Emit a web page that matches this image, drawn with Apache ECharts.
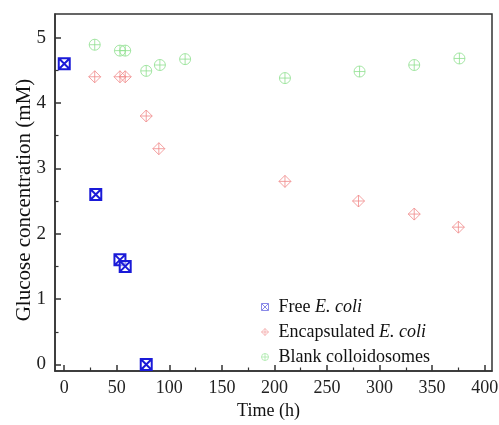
<!DOCTYPE html>
<html><head><meta charset="utf-8">
<script src="https://cdn.jsdelivr.net/npm/echarts@6/dist/echarts.min.js"></script>
<style>html,body{margin:0;padding:0;background:#fff}#c{width:499px;height:425px}</style>
</head><body><div id="c"></div>
<script>
const freeTime = [0, 30, 53, 58, 78];
const freeGlucose = [4.6, 2.6, 1.6, 1.5, 0];
const encTime = [29, 53, 58, 78, 90, 210, 280, 333, 375];
const encGlucose = [4.4, 4.4, 4.4, 3.8, 3.3, 2.8, 2.5, 2.3, 2.1];
const blankTime = [29, 53, 58, 78, 91, 115, 210, 281, 333, 376];
const blankGlucose = [4.89, 4.8, 4.8, 4.49, 4.58, 4.67, 4.38, 4.48, 4.58, 4.68];
const xTicks = [0, 50, 100, 150, 200, 250, 300, 350, 400];
const xMinor = [25, 75, 125, 175, 225, 275, 325, 375];
const yTicks = [0, 1, 2, 3, 4, 5];
const yMinor = [0.5, 1.5, 2.5, 3.5, 4.5];
const names = ['Free E. coli', 'Encapsulated E. coli', 'Blank colloidosomes'];

const F = '"Liberation Serif", "Times New Roman", serif';
const zip = (a, b) => a.map((v, i) => [v, b[i]]);
const XMIN = -8.8, XMAX = 407, YMIN = -0.1, YMAX = 5.36;
const symFree = 'path://M0,0L12,0L12,12L0,12Z M0,0L12,12 M12,0L0,12';
const symEnc = 'path://M6,0L12,6L6,12L0,6Z M6,0L6,12 M0,6L12,6';
const symBlank = 'path://M0,6A6,6 0 1,1 12,6A6,6 0 1,1 0,6Z M6,0L6,12 M0,6L12,6';

const chart = echarts.init(document.getElementById('c'));
const axisLine = {show: true, onZero: false, lineStyle: {color: '#333', width: 1.5}};
chart.setOption({
  animation: false,
  textStyle: {fontFamily: F},
  grid: {left: 55, top: 14, right: 7, bottom: 54, show: true, borderColor: '#333', borderWidth: 1.5,
         outerBoundsMode: 'none', containLabel: false},
  xAxis: [{
    type: 'value', min: XMIN, max: XMAX,
    name: 'Time (h)', nameLocation: 'middle', nameGap: 31, nameMoveOverlap: false,
    nameTextStyle: {fontFamily: F, fontSize: 18, color: '#111', padding: [0, 10, 0, 0]},
    axisLine: axisLine,
    axisTick: {show: true, inside: true, length: 6, customValues: xTicks, lineStyle: {color: '#333', width: 1.5}},
    axisLabel: {customValues: xTicks, margin: 8, fontFamily: F, fontSize: 18, color: '#222'},
    splitLine: {show: false}
  }, {
    type: 'value', min: XMIN, max: XMAX, position: 'bottom',
    axisLine: {show: false, onZero: false},
    axisTick: {show: true, inside: true, length: 3.5, customValues: xMinor, lineStyle: {color: '#333', width: 1.2}},
    axisLabel: {show: false}, splitLine: {show: false}
  }],
  yAxis: [{
    type: 'value', min: YMIN, max: YMAX,
    name: 'Glucose concentration (mM)', nameLocation: 'middle', nameGap: 20, nameMoveOverlap: false,
    nameTextStyle: {fontFamily: F, fontSize: 21, color: '#111', padding: [0, 15, 0, 0]},
    axisLine: axisLine,
    axisTick: {show: true, inside: true, length: 6, customValues: yTicks, lineStyle: {color: '#333', width: 1.5}},
    axisLabel: {customValues: yTicks, margin: 9, fontFamily: F, fontSize: 19, color: '#222'},
    splitLine: {show: false}
  }, {
    type: 'value', min: YMIN, max: YMAX, position: 'left',
    axisLine: {show: false, onZero: false},
    axisTick: {show: true, inside: true, length: 3.5, customValues: yMinor, lineStyle: {color: '#333', width: 1.2}},
    axisLabel: {show: false}, splitLine: {show: false}
  }],
  legend: {
    orient: 'vertical', left: 256, top: 293, itemGap: 7, itemWidth: 17, itemHeight: 7,
    symbolKeepAspect: true,
    data: [
      {name: names[0], icon: symFree, itemStyle: {color: 'rgba(0,0,0,0)', borderColor: '#8a8ae8', borderWidth: 1}},
      {name: names[1], icon: symEnc, itemStyle: {color: 'rgba(0,0,0,0)', borderColor: '#f4a8a8', borderWidth: 1}},
      {name: names[2], icon: symBlank, itemStyle: {color: 'rgba(0,0,0,0)', borderColor: '#a8e8a8', borderWidth: 1}}
    ],
    textStyle: {fontFamily: F, fontSize: 18, color: '#111',
      rich: {i: {fontFamily: F, fontSize: 18, fontStyle: 'italic', color: '#111'}}},
    formatter: n => n.replace('E. coli', '{i|E. coli}')
  },
  series: [{
    name: names[0], type: 'scatter', data: zip(freeTime, freeGlucose),
    symbol: symFree, symbolSize: 11,
    itemStyle: {color: 'rgba(255,255,255,0.6)', borderColor: '#1a1ad8', borderWidth: 2, opacity: 1},
    z: 5
  }, {
    name: names[1], type: 'scatter', data: zip(encTime, encGlucose),
    symbol: symEnc, symbolSize: 12,
    itemStyle: {color: 'rgba(255,255,255,0)', borderColor: '#f08a8a', borderWidth: 1}
  }, {
    name: names[2], type: 'scatter', data: zip(blankTime, blankGlucose),
    symbol: symBlank, symbolSize: 11,
    itemStyle: {color: 'rgba(255,255,255,0)', borderColor: '#8ee08e', borderWidth: 1}
  }]
});
</script></body></html>
